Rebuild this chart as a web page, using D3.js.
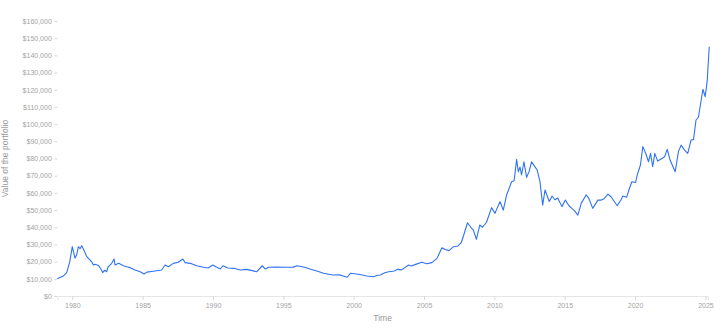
<!DOCTYPE html>
<html>
<head>
<meta charset="utf-8">
<script src="https://cdn.jsdelivr.net/npm/d3@7"></script>
<style>
  html, body { margin: 0; padding: 0; background: #fff; }
  svg { display: block; font-family: "Liberation Sans", Arial, Helvetica, sans-serif; }
</style>
</head>
<body>
<svg id="chart" width="720" height="330"></svg>
<script>
// Time in decimal years, portfolio value in thousands of dollars
const years = [
  1978.93, 1979.36, 1979.6, 1979.72, 1979.82, 1980.0, 1980.19, 1980.31, 1980.43, 1980.55,
  1980.67, 1980.8, 1981.03, 1981.2, 1981.38, 1981.5, 1981.62, 1981.85, 1982.08, 1982.16,
  1982.3, 1982.44, 1982.55, 1982.8, 1982.97, 1983.04, 1983.3, 1983.63, 1983.87, 1984.11,
  1984.46, 1984.82, 1985.1, 1985.3, 1985.76, 1986.0, 1986.35, 1986.59, 1986.83, 1987.18,
  1987.53, 1987.85, 1988.02, 1988.38, 1988.85, 1989.32, 1989.65, 1989.99, 1990.2, 1990.52,
  1990.71, 1991.05, 1991.47, 1991.94, 1992.4, 1992.86, 1993.1, 1993.5, 1993.72, 1993.93,
  1994.5, 1995.22, 1995.7, 1995.98, 1996.5, 1997.0, 1997.38, 1997.85, 1998.2, 1998.56,
  1999.0, 1999.3, 1999.53, 1999.77, 2000.2, 2000.6, 2000.93, 2001.4, 2001.71, 2001.9,
  2002.2, 2002.49, 2002.9, 2003.09, 2003.4, 2003.9, 2004.1, 2004.4, 2004.85, 2005.2,
  2005.56, 2005.92, 2006.27, 2006.5, 2006.77, 2007.1, 2007.42, 2007.64, 2007.8, 2008.09,
  2008.37, 2008.5, 2008.72, 2008.96, 2009.15, 2009.44, 2009.8, 2010.04, 2010.4, 2010.63,
  2010.87, 2011.05, 2011.22, 2011.4, 2011.58, 2011.7, 2011.82, 2011.93, 2012.1, 2012.29,
  2012.47, 2012.64, 2012.9, 2013.04, 2013.24, 2013.43, 2013.6, 2013.9, 2014.1, 2014.3,
  2014.5, 2014.8, 2015.04, 2015.3, 2015.5, 2015.7, 2015.93, 2016.17, 2016.52, 2016.7,
  2016.99, 2017.35, 2017.6, 2017.8, 2018.07, 2018.3, 2018.73, 2019.0, 2019.13, 2019.4,
  2019.6, 2019.77, 2020.03, 2020.15, 2020.38, 2020.55, 2020.8, 2020.95, 2021.1, 2021.25,
  2021.4, 2021.6, 2021.9, 2022.1, 2022.28, 2022.5, 2022.85, 2023.08, 2023.27, 2023.5,
  2023.74, 2023.98, 2024.15, 2024.33, 2024.5, 2024.82, 2024.98, 2025.12, 2025.27
];
const values = [
  10.0, 11.6, 13.6, 17.0, 20.0, 28.7, 22.0, 24.0, 28.7, 27.5,
  29.3, 27.0, 22.9, 21.5, 19.8, 18.0, 18.5, 17.8, 15.1, 13.6,
  15.0, 14.1, 17.0, 19.0, 21.5, 18.0, 19.0, 17.6, 17.0, 16.5,
  15.1, 14.1, 12.8, 13.9, 14.4, 14.7, 15.1, 18.0, 17.0, 19.0,
  19.6, 21.5, 19.4, 19.0, 17.6, 16.7, 16.3, 18.0, 17.0, 15.7,
  17.6, 16.3, 16.1, 15.1, 15.5, 14.6, 14.1, 17.6, 15.7, 16.7,
  16.9, 16.7, 16.8, 17.6, 16.7, 15.4, 14.5, 13.2, 12.7, 12.2,
  12.3, 11.5, 10.9, 13.2, 12.8, 12.2, 11.6, 11.2, 12.1, 12.2,
  13.5, 14.1, 14.5, 15.5, 15.2, 18.0, 17.5, 18.4, 19.6, 18.8,
  19.4, 21.9, 28.1, 27.0, 26.4, 28.7, 29.1, 31.0, 34.9, 42.6,
  39.4, 38.5, 33.0, 41.3, 40.0, 42.9, 51.4, 48.1, 54.9, 50.0,
  58.8, 62.7, 66.5, 67.0, 79.5, 72.3, 75.0, 70.4, 78.1, 69.0,
  72.5, 78.1, 75.0, 73.3, 66.5, 52.9, 61.7, 55.0, 58.2, 56.0,
  57.0, 52.0, 55.8, 52.5, 51.0, 49.5, 47.1, 53.9, 58.8, 57.0,
  51.0, 55.8, 55.8, 56.6, 59.3, 57.6, 52.5, 56.0, 58.2, 57.5,
  62.7, 66.5, 66.0, 70.4, 76.2, 86.9, 82.0, 78.1, 83.0, 75.2,
  83.0, 78.5, 80.0, 81.0, 85.3, 78.8, 72.3, 84.0, 87.8, 85.0,
  83.0, 90.8, 91.0, 102.4, 104.0, 120.3, 116.0, 124.7, 145.0
];
const xTicks = [1980, 1985, 1990, 1995, 2000, 2005, 2010, 2015, 2020, 2025];
const yTicks = [0, 10000, 20000, 30000, 40000, 50000, 60000, 70000, 80000,
                90000, 100000, 110000, 120000, 130000, 140000, 150000, 160000];
const xTitle = "Time";
const yTitle = "Value of the portfolio";

const data = years.map((yr, i) => ({ t: yr, v: values[i] * 1000 }));

const svg = d3.select("#chart");
const mLeft = 57.3, mRight = 708, mTop = 21, mBottom = 296;

// 1980 tick near x=72.3, ~14.07 px per year
const x = d3.scaleLinear()
  .domain([1980 - (72.3 - mLeft) / 14.07, 1980 + (mRight - 72.3) / 14.07])
  .range([mLeft, mRight]);
const y = d3.scaleLinear().domain([0, 160000]).range([mBottom, mTop]);

// X axis
const gx = svg.append("g").attr("transform", `translate(0,${mBottom})`)
  .call(d3.axisBottom(x).tickValues(xTicks).tickFormat(d3.format("d")).tickSizeOuter(0).tickSize(4).tickPadding(3));
gx.select(".domain").attr("stroke", "#e6e6e6");
gx.selectAll(".tick line").attr("stroke", "#d9d9d9");
gx.selectAll(".tick text").attr("fill", "#a3a3a3").style("font-size", "7px");

// Y axis
const gy = svg.append("g").attr("transform", `translate(${mLeft},0)`)
  .call(d3.axisLeft(y).tickValues(yTicks).tickFormat(d => "$" + d3.format(",")(d)).tickSize(3).tickPadding(2.5));
gy.select(".domain").remove();
gy.selectAll(".tick line").attr("stroke", "#d9d9d9");
gy.selectAll(".tick text").attr("fill", "#a3a3a3").style("font-size", "7px");

// Line
const line = d3.line().x(d => x(d.t)).y(d => y(d.v)).curve(d3.curveLinear);
svg.append("path").datum(data)
  .attr("fill", "none")
  .attr("stroke", "#2f72f2")
  .attr("stroke-width", 1.1)
  .attr("stroke-linejoin", "round")
  .attr("d", line);

// Titles
svg.append("text").attr("x", (mLeft + mRight) / 2).attr("y", 321)
  .attr("text-anchor", "middle").attr("fill", "#999").style("font-size", "8.5px").text(xTitle);
svg.append("text").attr("transform", `translate(8,${(mTop + mBottom) / 2}) rotate(-90)`)
  .attr("text-anchor", "middle").attr("fill", "#999").style("font-size", "8.5px").text(yTitle);
</script>
</body>
</html>
